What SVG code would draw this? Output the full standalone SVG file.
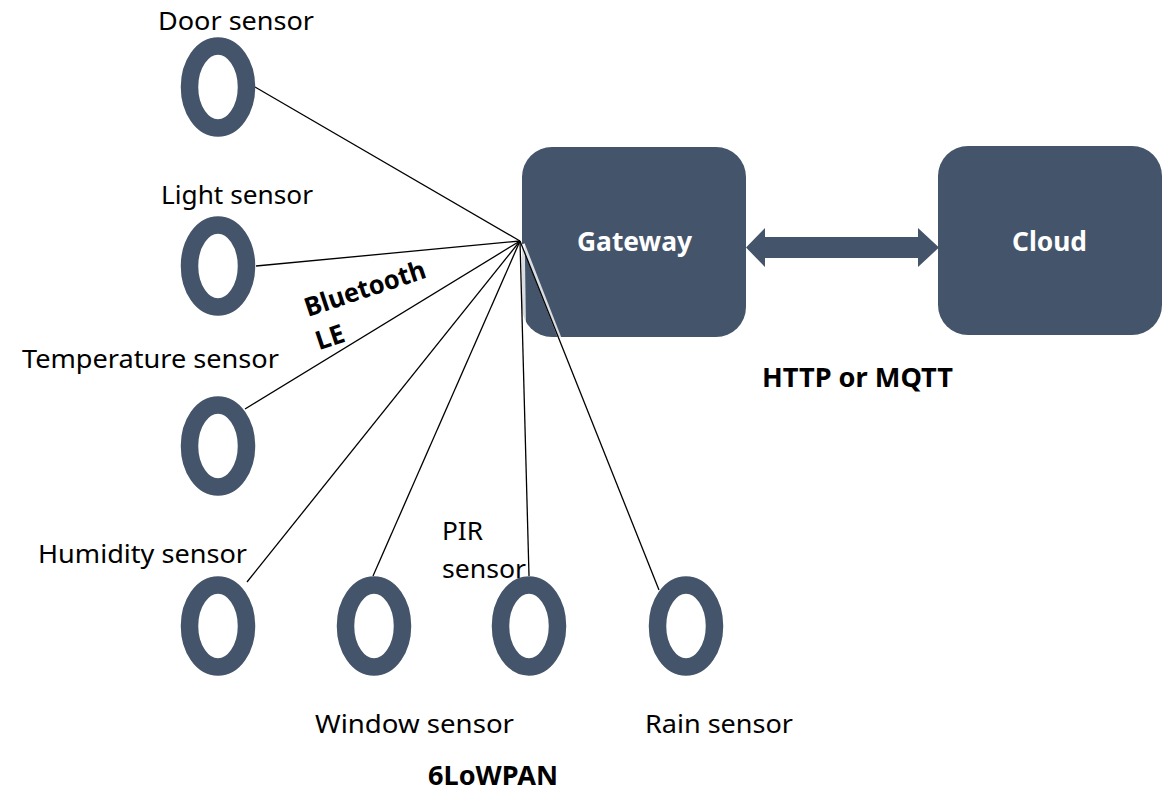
<svg xmlns="http://www.w3.org/2000/svg" width="1169" height="791" viewBox="0 0 1169 791">
<style>
.ring{fill:none;stroke:#44546A;stroke-width:17.5}
.box{fill:#44546A}
.lbl{font-family:"Noto Sans","Open Sans","Liberation Sans",sans-serif;font-size:26px;fill:#000}
.bold{font-family:"Noto Sans","Open Sans","Liberation Sans",sans-serif;font-size:26px;font-weight:bold;fill:#000}
.wt{font-family:"Noto Sans","Open Sans","Liberation Sans",sans-serif;font-size:26px;font-weight:bold;fill:#fff}
.ln{stroke:#000;stroke-width:1.3;fill:none}
.halo{stroke:#fff;stroke-width:3.5;fill:none;opacity:0.8}
</style>
<rect width="1169" height="791" fill="#fff"/>

<g id="gateway">
<rect class="box" x="522" y="147" width="224" height="190" rx="30" ry="30"/>
<text class="wt" x="577" y="251" textLength="115" lengthAdjust="spacingAndGlyphs">Gateway</text>
</g>
<g id="cloud">
<rect class="box" x="938" y="146" width="224" height="189" rx="30" ry="30"/>
<text class="wt" x="1012" y="251" textLength="75" lengthAdjust="spacingAndGlyphs">Cloud</text>
</g>

<g id="connectors">
<line class="ln" x1="520" y1="241" x2="255" y2="87"/>
<line class="ln" x1="520" y1="241" x2="256" y2="266"/>
<line class="ln" x1="520" y1="241" x2="245" y2="409"/>
<line class="ln" x1="520" y1="241" x2="247" y2="582"/>
<line class="ln" x1="520" y1="241" x2="373" y2="576"/>
<line class="halo" x1="523" y1="244" x2="528" y2="575"/>
<line class="halo" x1="523" y1="244" x2="658" y2="590"/>
<line class="ln" x1="520" y1="241" x2="529" y2="576"/>
<line class="ln" x1="520" y1="241" x2="659" y2="590"/>
<polygon class="box" points="746,247.5 765,228 765,237 918,237 918,228 939,247.5 918,267 918,258 765,258 765,267"/>
<g transform="translate(308,317) rotate(-18.4)">
<text class="bold" x="0" y="0" font-size="25" textLength="126" lengthAdjust="spacingAndGlyphs">Bluetooth</text>
<text class="bold" x="0" y="35" font-size="25" textLength="29" lengthAdjust="spacingAndGlyphs">LE</text>
</g>
<text class="bold" x="762" y="387" textLength="191" lengthAdjust="spacingAndGlyphs">HTTP or MQTT</text>
<text class="bold" x="428" y="785" textLength="130" lengthAdjust="spacingAndGlyphs">6LoWPAN</text>
</g>

<g id="door-sensor">
<ellipse class="ring" cx="218" cy="87" rx="28.5" ry="41"/>
<text class="lbl" x="158" y="30" textLength="156" lengthAdjust="spacingAndGlyphs">Door sensor</text>
</g>
<g id="light-sensor">
<ellipse class="ring" cx="218" cy="266" rx="28.5" ry="41"/>
<text class="lbl" x="161" y="204" textLength="152" lengthAdjust="spacingAndGlyphs">Light sensor</text>
</g>
<g id="temperature-sensor">
<ellipse class="ring" cx="218" cy="446" rx="28.5" ry="41"/>
<text class="lbl" x="22" y="368" textLength="257" lengthAdjust="spacingAndGlyphs">Temperature sensor</text>
</g>
<g id="humidity-sensor">
<ellipse class="ring" cx="218" cy="626" rx="28.5" ry="41"/>
<text class="lbl" x="38" y="563" textLength="209" lengthAdjust="spacingAndGlyphs">Humidity sensor</text>
</g>
<g id="window-sensor">
<ellipse class="ring" cx="374" cy="626" rx="28.5" ry="41"/>
<text class="lbl" x="315" y="733" textLength="199" lengthAdjust="spacingAndGlyphs">Window sensor</text>
</g>
<g id="pir-sensor">
<ellipse class="ring" cx="529" cy="626" rx="28.5" ry="41"/>
<text class="lbl" x="442" y="540" textLength="41" lengthAdjust="spacingAndGlyphs">PIR</text>
<text class="lbl" x="442" y="578" textLength="84" lengthAdjust="spacingAndGlyphs">sensor</text>
</g>
<g id="rain-sensor">
<ellipse class="ring" cx="686" cy="626" rx="28.5" ry="41"/>
<text class="lbl" x="645" y="733" textLength="148" lengthAdjust="spacingAndGlyphs">Rain sensor</text>
</g>
</svg>
